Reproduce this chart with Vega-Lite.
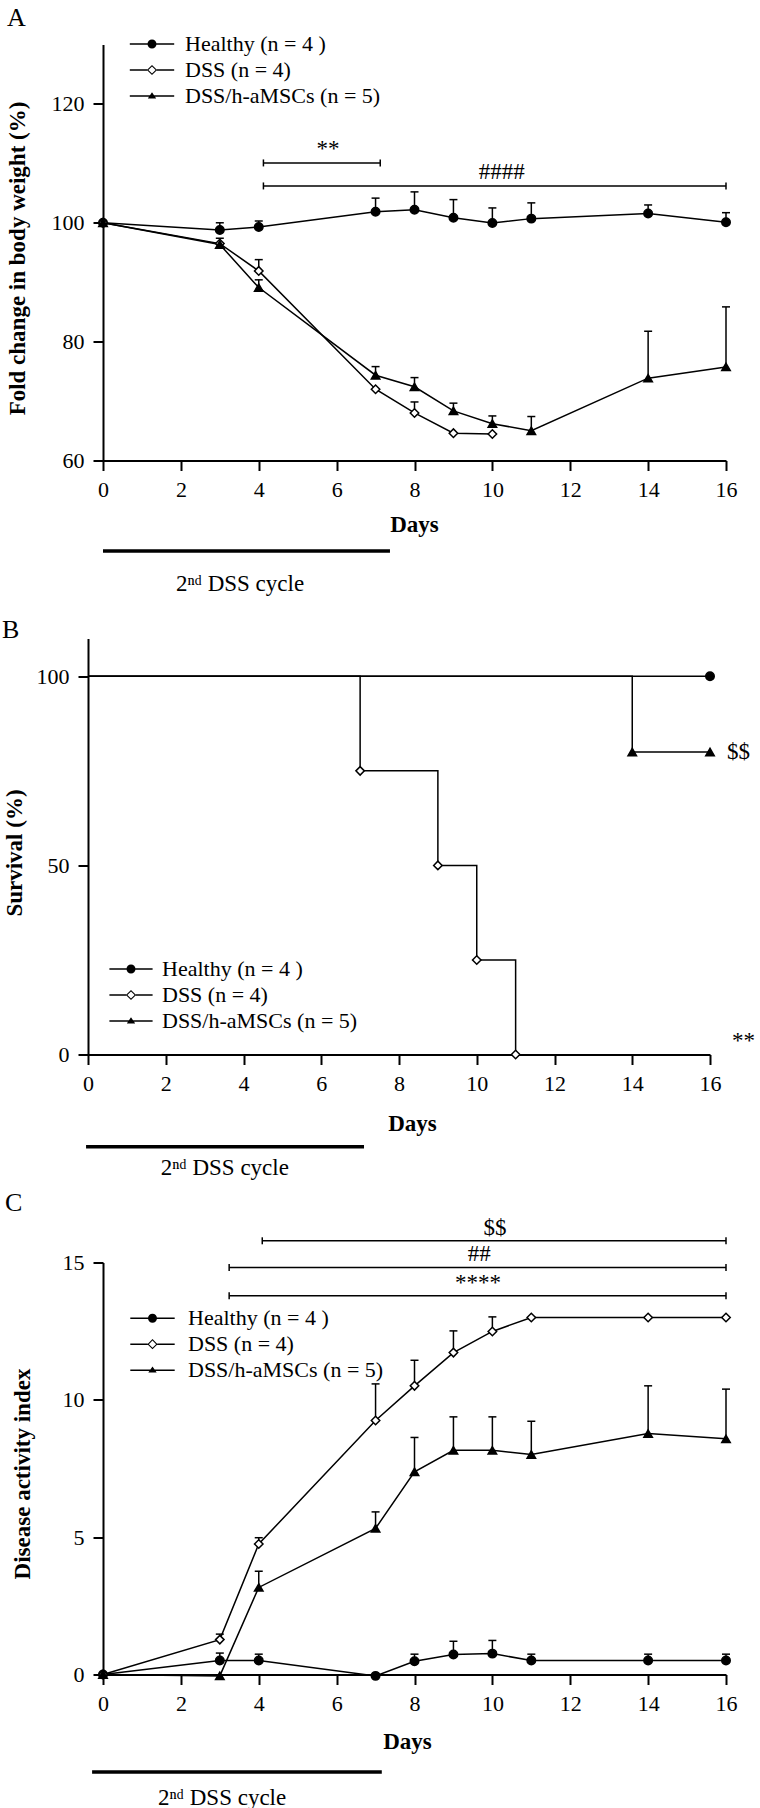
{
  "$schema": "https://vega.github.io/schema/vega-lite/v6.json",
  "background": "white",
  "autosize": {"type": "pad"},
  "padding": {"left": 2, "top": 4.5, "right": 0, "bottom": 0},
  "bounds": "flush",
  "spacing": 178,
  "resolve": {"scale": {"shape": "independent", "fill": "independent", "x": "independent", "y": "independent"}, "legend": {"shape": "independent", "fill": "independent"}},
  "config": {
    "view": {"stroke": null},
    "font": "Liberation Serif",
    "axis": {"domainColor": "black", "domainWidth": 2, "tickColor": "black", "tickWidth": 2, "tickSize": 10, "labelFont": "Liberation Serif", "labelFontSize": 22, "labelColor": "black", "labelPadding": 9, "titleFont": "Liberation Serif", "titleFontSize": 23, "titleFontWeight": "bold", "titleColor": "black", "grid": false, "labelFlush": false, "labelOverlap": false},
    "legend": {"padding": 0, "rowPadding": 4, "symbolSize": 144, "symbolStrokeWidth": 0, "symbolOpacity": 1, "labelFont": "Liberation Serif", "labelFontSize": 22, "labelColor": "black", "labelLimit": 0},
    "text": {"font": "Liberation Serif", "color": "black"}
  },
  "datasets": {
    "weight": [
      {"group": "Healthy (n = 4 )", "day": 0, "mean": 100, "hi": null},
      {"group": "Healthy (n = 4 )", "day": 3, "mean": 98.8, "hi": 100.0},
      {"group": "Healthy (n = 4 )", "day": 4, "mean": 99.3, "hi": 100.3},
      {"group": "Healthy (n = 4 )", "day": 7, "mean": 101.85, "hi": 104.15},
      {"group": "Healthy (n = 4 )", "day": 8, "mean": 102.2, "hi": 105.2},
      {"group": "Healthy (n = 4 )", "day": 9, "mean": 100.85, "hi": 103.9},
      {"group": "Healthy (n = 4 )", "day": 10, "mean": 99.95, "hi": 102.5},
      {"group": "Healthy (n = 4 )", "day": 11, "mean": 100.7, "hi": 103.35},
      {"group": "Healthy (n = 4 )", "day": 14, "mean": 101.55, "hi": 103.0},
      {"group": "Healthy (n = 4 )", "day": 16, "mean": 100.1, "hi": 101.7},
      {"group": "DSS (n = 4)", "day": 0, "mean": 100, "hi": null},
      {"group": "DSS (n = 4)", "day": 3, "mean": 96.5, "hi": null},
      {"group": "DSS (n = 4)", "day": 4, "mean": 91.9, "hi": 93.8},
      {"group": "DSS (n = 4)", "day": 7, "mean": 72.0, "hi": null},
      {"group": "DSS (n = 4)", "day": 8, "mean": 68.0, "hi": 69.85},
      {"group": "DSS (n = 4)", "day": 9, "mean": 64.6, "hi": null},
      {"group": "DSS (n = 4)", "day": 10, "mean": 64.45, "hi": null},
      {"group": "DSS/h-aMSCs (n = 5)", "day": 0, "mean": 100, "hi": null},
      {"group": "DSS/h-aMSCs (n = 5)", "day": 3, "mean": 96.35, "hi": 97.4},
      {"group": "DSS/h-aMSCs (n = 5)", "day": 4, "mean": 89.1, "hi": 90.4},
      {"group": "DSS/h-aMSCs (n = 5)", "day": 7, "mean": 74.35, "hi": 75.8},
      {"group": "DSS/h-aMSCs (n = 5)", "day": 8, "mean": 72.4, "hi": 73.95},
      {"group": "DSS/h-aMSCs (n = 5)", "day": 9, "mean": 68.35, "hi": 69.65},
      {"group": "DSS/h-aMSCs (n = 5)", "day": 10, "mean": 66.2, "hi": 67.5},
      {"group": "DSS/h-aMSCs (n = 5)", "day": 11, "mean": 65.0, "hi": 67.4},
      {"group": "DSS/h-aMSCs (n = 5)", "day": 14, "mean": 73.85, "hi": 81.75},
      {"group": "DSS/h-aMSCs (n = 5)", "day": 16, "mean": 75.75, "hi": 85.85}
    ],
    "surv_line": [
      {"group": "Healthy (n = 4 )", "day": 0, "pct": 100},
      {"group": "Healthy (n = 4 )", "day": 16, "pct": 100},
      {"group": "DSS (n = 4)", "day": 0, "pct": 100},
      {"group": "DSS (n = 4)", "day": 7, "pct": 75},
      {"group": "DSS (n = 4)", "day": 9, "pct": 50},
      {"group": "DSS (n = 4)", "day": 10, "pct": 25},
      {"group": "DSS (n = 4)", "day": 11, "pct": 0},
      {"group": "DSS/h-aMSCs (n = 5)", "day": 0, "pct": 100},
      {"group": "DSS/h-aMSCs (n = 5)", "day": 14, "pct": 80},
      {"group": "DSS/h-aMSCs (n = 5)", "day": 16, "pct": 80}
    ],
    "surv_pts": [
      {"group": "Healthy (n = 4 )", "day": 16, "pct": 100},
      {"group": "DSS (n = 4)", "day": 7, "pct": 75},
      {"group": "DSS (n = 4)", "day": 9, "pct": 50},
      {"group": "DSS (n = 4)", "day": 10, "pct": 25},
      {"group": "DSS (n = 4)", "day": 11, "pct": 0},
      {"group": "DSS/h-aMSCs (n = 5)", "day": 14, "pct": 80},
      {"group": "DSS/h-aMSCs (n = 5)", "day": 16, "pct": 80}
    ],
    "surv_annot": [
      {"day": 16, "pct": 80, "label": "$$"},
      {"day": 16, "pct": 0, "label": "**"}
    ],
    "dai": [
      {"group": "Healthy (n = 4 )", "day": 0, "mean": 0, "hi": null},
      {"group": "Healthy (n = 4 )", "day": 3, "mean": 0.51, "hi": 0.78},
      {"group": "Healthy (n = 4 )", "day": 4, "mean": 0.51, "hi": 0.74},
      {"group": "Healthy (n = 4 )", "day": 7, "mean": -0.05, "hi": null},
      {"group": "Healthy (n = 4 )", "day": 8, "mean": 0.48, "hi": 0.74},
      {"group": "Healthy (n = 4 )", "day": 9, "mean": 0.73, "hi": 1.21},
      {"group": "Healthy (n = 4 )", "day": 10, "mean": 0.76, "hi": 1.24},
      {"group": "Healthy (n = 4 )", "day": 11, "mean": 0.51, "hi": 0.74},
      {"group": "Healthy (n = 4 )", "day": 14, "mean": 0.51, "hi": 0.74},
      {"group": "Healthy (n = 4 )", "day": 16, "mean": 0.51, "hi": 0.74},
      {"group": "DSS (n = 4)", "day": 0, "mean": 0, "hi": null},
      {"group": "DSS (n = 4)", "day": 3, "mean": 1.27, "hi": 1.47},
      {"group": "DSS (n = 4)", "day": 4, "mean": 4.75, "hi": 4.98},
      {"group": "DSS (n = 4)", "day": 7, "mean": 9.25, "hi": 10.58},
      {"group": "DSS (n = 4)", "day": 8, "mean": 10.51, "hi": 11.44},
      {"group": "DSS (n = 4)", "day": 9, "mean": 11.72, "hi": 12.51},
      {"group": "DSS (n = 4)", "day": 10, "mean": 12.49, "hi": 13.02},
      {"group": "DSS (n = 4)", "day": 11, "mean": 13, "hi": null},
      {"group": "DSS (n = 4)", "day": 14, "mean": 13, "hi": null},
      {"group": "DSS (n = 4)", "day": 16, "mean": 13, "hi": null},
      {"group": "DSS/h-aMSCs (n = 5)", "day": 0, "mean": 0, "hi": null},
      {"group": "DSS/h-aMSCs (n = 5)", "day": 3, "mean": -0.05, "hi": null},
      {"group": "DSS/h-aMSCs (n = 5)", "day": 4, "mean": 3.17, "hi": 3.76},
      {"group": "DSS/h-aMSCs (n = 5)", "day": 7, "mean": 5.32, "hi": 5.92},
      {"group": "DSS/h-aMSCs (n = 5)", "day": 8, "mean": 7.38, "hi": 8.63},
      {"group": "DSS/h-aMSCs (n = 5)", "day": 9, "mean": 8.16, "hi": 9.38},
      {"group": "DSS/h-aMSCs (n = 5)", "day": 10, "mean": 8.16, "hi": 9.38},
      {"group": "DSS/h-aMSCs (n = 5)", "day": 11, "mean": 8.01, "hi": 9.22},
      {"group": "DSS/h-aMSCs (n = 5)", "day": 14, "mean": 8.77, "hi": 10.51},
      {"group": "DSS/h-aMSCs (n = 5)", "day": 16, "mean": 8.58, "hi": 10.39}
    ],
    "brackets": [
      {"panel": "A", "from": 4.12, "to": 7.12, "level": 110.07, "label": "**", "mid": 5.78},
      {"panel": "A", "from": 4.12, "to": 16, "level": 106.2, "label": "####", "mid": 10.24},
      {"panel": "C", "from": 4.09, "to": 16, "level": 15.79, "label": "$$", "mid": 10.07},
      {"panel": "C", "from": 3.24, "to": 16, "level": 14.82, "label": "##", "mid": 9.66},
      {"panel": "C", "from": 3.24, "to": 16, "level": 13.79, "label": "****", "mid": 9.63}
    ],
    "cycle": [
      {"panel": "A", "start": 0, "end": 7.37, "mid": 3.52, "label": "2ⁿᵈ DSS cycle"},
      {"panel": "B", "start": -0.05, "end": 7.1, "mid": 3.52, "label": "2ⁿᵈ DSS cycle"},
      {"panel": "C", "start": -0.28, "end": 7.16, "mid": 3.06, "label": "2ⁿᵈ DSS cycle"}
    ]
  },
  "vconcat": [
    {
      "width": 623,
      "height": 416,
      "resolve": {"scale": {"shape": "independent"}, "legend": {"shape": "independent"}},
      "layer": [
        {
          "data": {"name": "weight"},
          "mark": {"type": "line", "color": "black", "strokeWidth": 1.5},
          "encoding": {
            "x": {"field": "day", "type": "quantitative", "scale": {"domain": [0, 16]}, "axis": {"values": [0, 2, 4, 6, 8, 10, 12, 14, 16], "title": "Days", "titleX": 311, "titleY": 64, "titleBaseline": "middle", "titleAlign": "center"}},
            "y": {"field": "mean", "type": "quantitative", "scale": {"domain": [60, 130]}, "axis": {"values": [60, 80, 100, 120], "title": "Fold change in body weight (%)", "titleAngle": 270, "titleX": -86, "titleY": 213.5, "titleBaseline": "middle", "titleAlign": "center"}},
            "detail": {"field": "group"}
          }
        },
        {
          "data": {"name": "weight"},
          "transform": [{"filter": "datum.hi != null"}],
          "mark": {"type": "rule", "color": "black", "strokeWidth": 1.5},
          "encoding": {"x": {"field": "day", "type": "quantitative", "scale": {"domain": [0, 16]}}, "y": {"field": "mean", "type": "quantitative", "scale": {"domain": [60, 130]}}, "y2": {"field": "hi"}}
        },
        {
          "data": {"name": "weight"},
          "transform": [{"filter": "datum.hi != null"}],
          "mark": {"type": "point", "shape": "M-1,0L1,0", "size": 64, "filled": false, "stroke": "black", "strokeWidth": 1.5, "opacity": 1},
          "encoding": {"x": {"field": "day", "type": "quantitative", "scale": {"domain": [0, 16]}}, "y": {"field": "hi", "type": "quantitative", "scale": {"domain": [60, 130]}}}
        },
        {
          "data": {"name": "weight"},
          "mark": {"type": "point", "filled": true, "stroke": "black", "strokeWidth": 1.5, "opacity": 1, "size": 72},
          "encoding": {
            "x": {"field": "day", "type": "quantitative", "scale": {"domain": [0, 16]}},
            "y": {"field": "mean", "type": "quantitative", "scale": {"domain": [60, 130]}},
            "shape": {"field": "group", "type": "nominal", "scale": {"domain": ["Healthy (n = 4 )", "DSS (n = 4)", "DSS/h-aMSCs (n = 5)"], "range": ["circle", "diamond", "triangle-up"]}, "legend": null},
            "fill": {"field": "group", "type": "nominal", "scale": {"domain": ["Healthy (n = 4 )", "DSS (n = 4)", "DSS/h-aMSCs (n = 5)"], "range": ["black", "white", "black"]}, "legend": null}
          }
        },
        {
          "data": {"values": []},
          "mark": {"type": "point", "filled": true, "color": "black", "opacity": 1},
          "encoding": {
            "shape": {"field": "group", "type": "nominal", "scale": {"domain": ["Healthy (n = 4 )", "DSS (n = 4)", "DSS/h-aMSCs (n = 5)"], "range": ["M-3.7,-0.125H3.7V0.125H-3.7ZM-0.75,0A0.75,0.75,0,1,1,0.75,0A0.75,0.75,0,1,1,-0.75,0Z", "M-3.7,-0.125H-0.8V0.125H-3.7ZM0.8,-0.125H3.7V0.125H0.8ZM0,-0.85L0.85,0L0,0.85L-0.85,0ZM0,-0.6L-0.6,0L0,0.6L0.6,0Z", "M-3.7,-0.125H3.7V0.125H-3.7ZM0,-0.62L0.7,0.4L-0.7,0.4Z"]},
              "legend": {"orient": "none", "legendX": 38, "legendY": -11.5, "title": null, "labelOffset": 22, "symbolSize": 144, "symbolOpacity": 1, "symbolStrokeWidth": 0}}
          }
        },
        {
          "data": {"name": "brackets"},
          "transform": [{"filter": "datum.panel === 'A'"}],
          "mark": {"type": "rule", "color": "black", "strokeWidth": 1.5},
          "encoding": {"x": {"field": "from", "type": "quantitative", "scale": {"domain": [0, 16]}}, "x2": {"field": "to"}, "y": {"field": "level", "type": "quantitative", "scale": {"domain": [60, 130]}}}
        },
        {
          "data": {"name": "brackets"},
          "transform": [{"filter": "datum.panel === 'A'"}, {"fold": ["from", "to"], "as": ["end", "pos"]}],
          "mark": {"type": "point", "shape": "M0,-1L0,1", "size": 49, "filled": false, "stroke": "black", "strokeWidth": 1.5, "opacity": 1},
          "encoding": {"x": {"field": "pos", "type": "quantitative", "scale": {"domain": [0, 16]}}, "y": {"field": "level", "type": "quantitative", "scale": {"domain": [60, 130]}}}
        },
        {
          "data": {"name": "brackets"},
          "transform": [{"filter": "datum.panel === 'A'"}],
          "mark": {"type": "text", "fontSize": 23, "baseline": "middle", "align": "center", "dy": -14},
          "encoding": {"x": {"field": "mid", "type": "quantitative", "scale": {"domain": [0, 16]}}, "y": {"field": "level", "type": "quantitative", "scale": {"domain": [60, 130]}}, "text": {"field": "label"}}
        },
        {
          "data": {"name": "cycle"},
          "transform": [{"filter": "datum.panel === 'A'"}],
          "mark": {"type": "rule", "color": "black", "strokeWidth": 3.5},
          "encoding": {"x": {"field": "start", "type": "quantitative", "scale": {"domain": [0, 16]}}, "x2": {"field": "end"}, "y": {"datum": 44.77, "scale": {"domain": [60, 130]}}}
        },
        {
          "data": {"name": "cycle"},
          "transform": [{"filter": "datum.panel === 'A'"}],
          "mark": {"type": "text", "fontSize": 23, "baseline": "middle", "align": "center"},
          "encoding": {"x": {"field": "mid", "type": "quantitative", "scale": {"domain": [0, 16]}}, "y": {"datum": 39.22, "scale": {"domain": [60, 130]}}, "text": {"field": "label"}}
        },
        {
          "data": {"values": [{"panel": "A"}]},
          "mark": {"type": "text", "fontSize": 26, "baseline": "alphabetic", "align": "left"},
          "encoding": {"x": {"datum": -2.465, "scale": {"domain": [0, 16]}}, "y": {"datum": 133.11, "scale": {"domain": [60, 130]}}, "text": {"field": "panel"}}
        }
      ]
    },
    {
      "bounds": "flush",
      "spacing": 208,
      "resolve": {"scale": {"shape": "independent", "fill": "independent", "x": "independent", "y": "independent"}, "legend": {"shape": "independent", "fill": "independent"}},
      "vconcat": [
        {
          "width": 623,
          "height": 416,
          "resolve": {"scale": {"shape": "independent"}, "legend": {"shape": "independent"}},
          "layer": [
            {
              "data": {"name": "surv_line"},
              "mark": {"type": "line", "color": "black", "strokeWidth": 1.5, "interpolate": "step-after"},
              "encoding": {
                "x": {"field": "day", "type": "quantitative", "scale": {"domain": [0, 16], "range": [-15, 607]}, "axis": {"values": [0, 2, 4, 6, 8, 10, 12, 14, 16], "title": "Days", "titleX": 309, "titleY": 69, "titleBaseline": "middle", "titleAlign": "center"}},
                "y": {"field": "pct", "type": "quantitative", "scale": {"domain": [0, 110]}, "axis": {"values": [0, 50, 100], "offset": 15, "title": "Survival (%)", "titleAngle": 270, "titleX": -74, "titleY": 214, "titleBaseline": "middle", "titleAlign": "center"}},
                "detail": {"field": "group"}
              }
            },
            {
              "data": {"name": "surv_pts"},
              "mark": {"type": "point", "filled": true, "stroke": "black", "strokeWidth": 1.5, "opacity": 1, "size": 72},
              "encoding": {
                "x": {"field": "day", "type": "quantitative", "scale": {"domain": [0, 16], "range": [-15, 607]}},
                "y": {"field": "pct", "type": "quantitative", "scale": {"domain": [0, 110]}},
                "shape": {"field": "group", "type": "nominal", "scale": {"domain": ["Healthy (n = 4 )", "DSS (n = 4)", "DSS/h-aMSCs (n = 5)"], "range": ["circle", "diamond", "triangle-up"]}, "legend": null},
                "fill": {"field": "group", "type": "nominal", "scale": {"domain": ["Healthy (n = 4 )", "DSS (n = 4)", "DSS/h-aMSCs (n = 5)"], "range": ["black", "white", "black"]}, "legend": null}
              }
            },
            {
              "data": {"values": []},
              "mark": {"type": "point", "filled": true, "color": "black", "opacity": 1},
              "encoding": {
                "shape": {"field": "group", "type": "nominal", "scale": {"domain": ["Healthy (n = 4 )", "DSS (n = 4)", "DSS/h-aMSCs (n = 5)"], "range": ["M-3.6,-0.125H3.6V0.125H-3.6ZM-0.75,0A0.75,0.75,0,1,1,0.75,0A0.75,0.75,0,1,1,-0.75,0Z", "M-3.6,-0.125H-0.8V0.125H-3.6ZM0.8,-0.125H3.6V0.125H0.8ZM0,-0.85L0.85,0L0,0.85L-0.85,0ZM0,-0.6L-0.6,0L0,0.6L0.6,0Z", "M-3.6,-0.125H3.6V0.125H-3.6ZM0,-0.62L0.7,0.4L-0.7,0.4Z"]},
                  "legend": {"orient": "none", "legendX": 17, "legendY": 319.5, "title": null, "labelOffset": 20, "symbolSize": 144, "symbolOpacity": 1, "symbolStrokeWidth": 0}}
              }
            },
            {
              "data": {"name": "surv_annot"},
              "transform": [{"filter": "datum.label === '$$'"}],
              "mark": {"type": "text", "fontSize": 23, "baseline": "middle", "align": "left", "dx": 17},
              "encoding": {"x": {"field": "day", "type": "quantitative", "scale": {"domain": [0, 16], "range": [-15, 607]}}, "y": {"field": "pct", "type": "quantitative", "scale": {"domain": [0, 110]}}, "text": {"field": "label"}}
            },
            {
              "data": {"name": "surv_annot"},
              "transform": [{"filter": "datum.label === '**'"}],
              "mark": {"type": "text", "fontSize": 23, "baseline": "middle", "align": "left", "dx": 22, "dy": -14},
              "encoding": {"x": {"field": "day", "type": "quantitative", "scale": {"domain": [0, 16], "range": [-15, 607]}}, "y": {"field": "pct", "type": "quantitative", "scale": {"domain": [0, 110]}}, "text": {"field": "label"}}
            },
            {
              "data": {"name": "cycle"},
              "transform": [{"filter": "datum.panel === 'B'"}],
              "mark": {"type": "rule", "color": "black", "strokeWidth": 3.5},
              "encoding": {"x": {"field": "start", "type": "quantitative", "scale": {"domain": [0, 16], "range": [-15, 607]}}, "x2": {"field": "end"}, "y": {"datum": -24.38, "scale": {"domain": [0, 110]}}}
            },
            {
              "data": {"name": "cycle"},
              "transform": [{"filter": "datum.panel === 'B'"}],
              "mark": {"type": "text", "fontSize": 23, "baseline": "middle", "align": "center"},
              "encoding": {"x": {"field": "mid", "type": "quantitative", "scale": {"domain": [0, 16], "range": [-15, 607]}}, "y": {"datum": -30.0, "scale": {"domain": [0, 110]}}, "text": {"field": "label"}}
            },
            {
              "data": {"values": [{"panel": "B"}]},
              "mark": {"type": "text", "fontSize": 26, "baseline": "alphabetic", "align": "left"},
              "encoding": {"x": {"datum": -2.212, "scale": {"domain": [0, 16], "range": [-15, 607]}}, "y": {"datum": 110.2, "scale": {"domain": [0, 110]}}, "text": {"field": "panel"}}
            }
          ]
        },
        {
          "width": 623,
          "height": 412,
          "resolve": {"scale": {"shape": "independent"}, "legend": {"shape": "independent"}},
          "layer": [
            {
              "data": {"name": "dai"},
              "mark": {"type": "line", "color": "black", "strokeWidth": 1.5},
              "encoding": {
                "x": {"field": "day", "type": "quantitative", "scale": {"domain": [0, 16]}, "axis": {"values": [0, 2, 4, 6, 8, 10, 12, 14, 16], "title": "Days", "titleX": 304, "titleY": 67, "titleBaseline": "middle", "titleAlign": "center"}},
                "y": {"field": "mean", "type": "quantitative", "scale": {"domain": [0, 15]}, "axis": {"values": [0, 5, 10, 15], "title": "Disease activity index", "titleAngle": 270, "titleX": -81, "titleY": 211, "titleBaseline": "middle", "titleAlign": "center"}},
                "detail": {"field": "group"}
              }
            },
            {
              "data": {"name": "dai"},
              "transform": [{"filter": "datum.hi != null"}],
              "mark": {"type": "rule", "color": "black", "strokeWidth": 1.5},
              "encoding": {"x": {"field": "day", "type": "quantitative", "scale": {"domain": [0, 16]}}, "y": {"field": "mean", "type": "quantitative", "scale": {"domain": [0, 15]}}, "y2": {"field": "hi"}}
            },
            {
              "data": {"name": "dai"},
              "transform": [{"filter": "datum.hi != null"}],
              "mark": {"type": "point", "shape": "M-1,0L1,0", "size": 64, "filled": false, "stroke": "black", "strokeWidth": 1.5, "opacity": 1},
              "encoding": {"x": {"field": "day", "type": "quantitative", "scale": {"domain": [0, 16]}}, "y": {"field": "hi", "type": "quantitative", "scale": {"domain": [0, 15]}}}
            },
            {
              "data": {"name": "dai"},
              "mark": {"type": "point", "filled": true, "stroke": "black", "strokeWidth": 1.5, "opacity": 1, "size": 72},
              "encoding": {
                "x": {"field": "day", "type": "quantitative", "scale": {"domain": [0, 16]}},
                "y": {"field": "mean", "type": "quantitative", "scale": {"domain": [0, 15]}},
                "shape": {"field": "group", "type": "nominal", "scale": {"domain": ["Healthy (n = 4 )", "DSS (n = 4)", "DSS/h-aMSCs (n = 5)"], "range": ["circle", "diamond", "triangle-up"]}, "legend": null},
                "fill": {"field": "group", "type": "nominal", "scale": {"domain": ["Healthy (n = 4 )", "DSS (n = 4)", "DSS/h-aMSCs (n = 5)"], "range": ["black", "white", "black"]}, "legend": null}
              }
            },
            {
              "data": {"values": []},
              "mark": {"type": "point", "filled": true, "color": "black", "opacity": 1},
              "encoding": {
                "shape": {"field": "group", "type": "nominal", "scale": {"domain": ["Healthy (n = 4 )", "DSS (n = 4)", "DSS/h-aMSCs (n = 5)"], "range": ["M-3.7,-0.125H3.7V0.125H-3.7ZM-0.75,0A0.75,0.75,0,1,1,0.75,0A0.75,0.75,0,1,1,-0.75,0Z", "M-3.7,-0.125H-0.8V0.125H-3.7ZM0.8,-0.125H3.7V0.125H0.8ZM0,-0.85L0.85,0L0,0.85L-0.85,0ZM0,-0.6L-0.6,0L0,0.6L0.6,0Z", "M-3.7,-0.125H3.7V0.125H-3.7ZM0,-0.62L0.7,0.4L-0.7,0.4Z"]},
                  "legend": {"orient": "none", "legendX": 38.5, "legendY": 44.7, "title": null, "labelOffset": 24.5, "symbolSize": 144, "symbolOpacity": 1, "symbolStrokeWidth": 0}}
              }
            },
            {
              "data": {"name": "brackets"},
              "transform": [{"filter": "datum.panel === 'C'"}],
              "mark": {"type": "rule", "color": "black", "strokeWidth": 1.5},
              "encoding": {"x": {"field": "from", "type": "quantitative", "scale": {"domain": [0, 16]}}, "x2": {"field": "to"}, "y": {"field": "level", "type": "quantitative", "scale": {"domain": [0, 15]}}}
            },
            {
              "data": {"name": "brackets"},
              "transform": [{"filter": "datum.panel === 'C'"}, {"fold": ["from", "to"], "as": ["end", "pos"]}],
              "mark": {"type": "point", "shape": "M0,-1L0,1", "size": 49, "filled": false, "stroke": "black", "strokeWidth": 1.5, "opacity": 1},
              "encoding": {"x": {"field": "pos", "type": "quantitative", "scale": {"domain": [0, 16]}}, "y": {"field": "level", "type": "quantitative", "scale": {"domain": [0, 15]}}}
            },
            {
              "data": {"name": "brackets"},
              "transform": [{"filter": "datum.panel === 'C'"}],
              "mark": {"type": "text", "fontSize": 23, "baseline": "middle", "align": "center", "dy": -13},
              "encoding": {"x": {"field": "mid", "type": "quantitative", "scale": {"domain": [0, 16]}}, "y": {"field": "level", "type": "quantitative", "scale": {"domain": [0, 15]}}, "text": {"field": "label"}}
            },
            {
              "data": {"name": "cycle"},
              "transform": [{"filter": "datum.panel === 'C'"}],
              "mark": {"type": "rule", "color": "black", "strokeWidth": 3.5},
              "encoding": {"x": {"field": "start", "type": "quantitative", "scale": {"domain": [0, 16]}}, "x2": {"field": "end"}, "y": {"datum": -3.55, "scale": {"domain": [0, 15]}}}
            },
            {
              "data": {"name": "cycle"},
              "transform": [{"filter": "datum.panel === 'C'"}],
              "mark": {"type": "text", "fontSize": 23, "baseline": "middle", "align": "center"},
              "encoding": {"x": {"field": "mid", "type": "quantitative", "scale": {"domain": [0, 16]}}, "y": {"datum": -4.5, "scale": {"domain": [0, 15]}}, "text": {"field": "label"}}
            },
            {
              "data": {"values": [{"panel": "C"}]},
              "mark": {"type": "text", "fontSize": 26, "baseline": "alphabetic", "align": "left"},
              "encoding": {"x": {"datum": -2.517, "scale": {"domain": [0, 16]}}, "y": {"datum": 16.87, "scale": {"domain": [0, 15]}}, "text": {"field": "panel"}}
            }
          ]
        }
      ]
    }
  ]
}
